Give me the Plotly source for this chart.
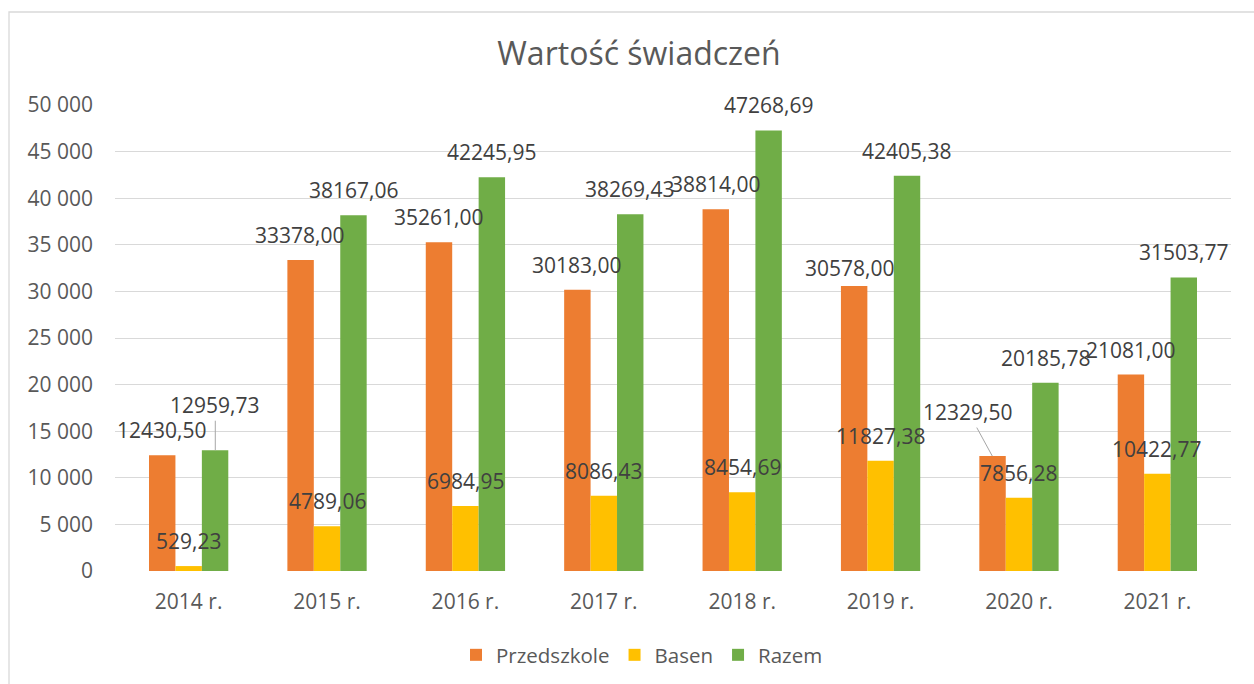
import plotly.graph_objects as go

# ---- data ----
categories = ["2014 r.", "2015 r.", "2016 r.", "2017 r.", "2018 r.", "2019 r.", "2020 r.", "2021 r."]
przedszkole = [12430.50, 33378.00, 35261.00, 30183.00, 38814.00, 30578.00, 12329.50, 21081.00]
basen = [529.23, 4789.06, 6984.95, 8086.43, 8454.69, 11827.38, 7856.28, 10422.77]
razem = [12959.73, 38167.06, 42245.95, 38269.43, 47268.69, 42405.38, 20185.78, 31503.77]
series_names = ["Przedszkole", "Basen", "Razem"]
series_colors = ["#ED7D31", "#FFC000", "#70AD47"]
y_ticks = [0, 5000, 10000, 15000, 20000, 25000, 30000, 35000, 40000, 45000, 50000]

# ---- layout constants ----
W, H = 1254, 684
ML, MR, MT, MB = 115, 23, 105, 113
BARGAP = 0.427
FONT = "Open Sans"
plot_w = W - ML - MR
plot_h = H - MT - MB
cat_w = plot_w / len(categories)
bar_w = cat_w * (1 - BARGAP) / 3

# label adjustments (series index, category index)
label_moves = {
    (2, 0): dict(ax=0, ay=-45),      # leader line
    (0, 6): dict(ax=-24, ay=-44),    # leader line
    (0, 5): dict(dx=-4, dy=-7),
}

all_series = [przedszkole, basen, razem]

fig = go.Figure()
for name, vals, col in zip(series_names, all_series, series_colors):
    fig.add_trace(go.Bar(x=categories, y=vals, name=name,
                         marker=dict(color=col, line=dict(width=0))))

def fmt(v):
    return f"{v:.2f}".replace(".", ",")

annotations = []
for si, vals in enumerate(all_series):
    off = (si - 1) * bar_w
    for ci, v in enumerate(vals):
        mv = label_moves.get((si, ci), {})
        base = dict(x=categories[ci], y=v, xref="x", yref="y", text=fmt(v),
                    font=dict(family=FONT, size=21, color="#404040"),
                    xanchor="center", yanchor="middle")
        if "ax" in mv:
            base.update(showarrow=True, arrowhead=0, arrowwidth=1, arrowcolor="#A6A6A6",
                        ax=mv["ax"], ay=mv["ay"], xshift=off, standoff=0)
        else:
            base.update(showarrow=False, xshift=off + mv.get("dx", 0), yshift=25 + mv.get("dy", 0))
        annotations.append(base)

def px_to_paper_x(px):
    return (px - ML) / plot_w

def px_to_paper_y(py):
    return (H - MB - py) / plot_h

shapes = [dict(type="rect", xref="paper", yref="paper",
               x0=px_to_paper_x(9), x1=px_to_paper_x(W + 20),
               y0=px_to_paper_y(H + 20), y1=px_to_paper_y(12),
               line=dict(color="#D9D9D9", width=1.3), fillcolor="rgba(0,0,0,0)", layer="below")]

fig.update_layout(
    width=W, height=H,
    margin=dict(l=ML, r=MR, t=MT, b=MB, pad=0),
    paper_bgcolor="white", plot_bgcolor="white",
    separators=", ",
    barmode="group", bargap=BARGAP, bargroupgap=0,
    font=dict(family=FONT, color="#595959"),
    title=dict(text="Wartość świadczeń", x=639 / W, xref="container", xanchor="center",
               y=1 - 54 / H, yref="container", yanchor="middle",
               font=dict(family=FONT, size=32, color="#595959")),
    legend=dict(orientation="h", xref="container", x=642 / W, xanchor="center",
                yref="container", y=1 - 655 / H, yanchor="middle",
                font=dict(family=FONT, size=20.5, color="#595959"),
                traceorder="normal", itemclick=False, itemwidth=30),
    annotations=annotations,
    shapes=shapes,
)
fig.update_yaxes(range=[0, 50000], tickvals=y_ticks, tickformat=",d",
                 showgrid=True, gridcolor="#D9D9D9", gridwidth=1.2,
                 zeroline=False, showline=False, ticks="",
                 tickfont=dict(family=FONT, size=21, color="#595959"),
                 ticklabelstandoff=21)
fig.update_xaxes(showgrid=False, showline=False, ticks="",
                 tickfont=dict(family=FONT, size=21, color="#595959"),
                 ticklabelstandoff=16)

fig.write_html("out.html", config={"displayModeBar": False})

with open("out.html", "r", encoding="utf-8") as f:
    html = f.read()
html = html.replace("<head>", "<head><style>html,body{margin:0;padding:0;overflow:hidden;}</style>", 1)
with open("out.html", "w", encoding="utf-8") as f:
    f.write(html)
